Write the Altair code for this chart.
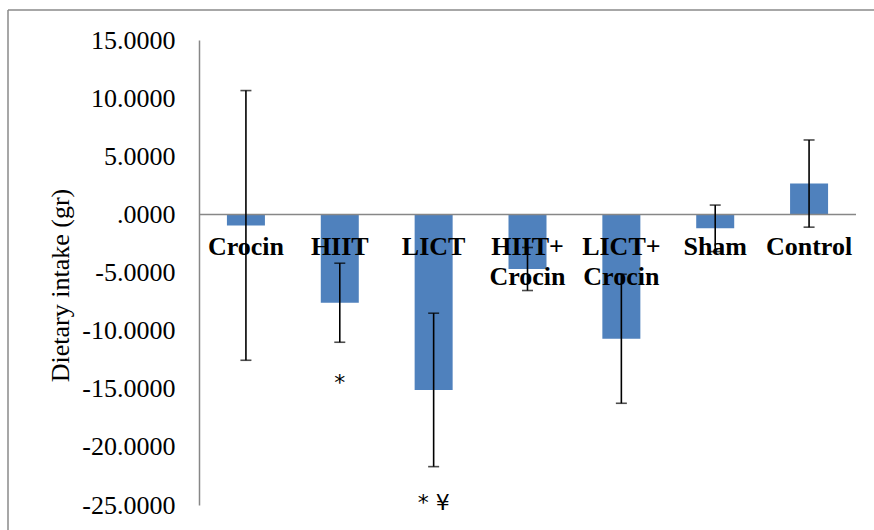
import altair as alt
import pandas as pd

categories = ["Crocin", "HIIT", "LICT", "HIIT+ Crocin", "LICT+ Crocin", "Sham", "Control"]
means = [-0.95, -7.6, -15.1, -4.7, -10.7, -1.2, 2.65]
errors = [11.6, 3.4, 6.6, 1.85, 5.55, 2.0, 3.75]

annot_cats = ["HIIT", "LICT"]
annot_text = ["*", "* \u00a5"]
annot_y = [-14.5, -24.8]

y_ticks = [-25, -20, -15, -10, -5, 0, 5, 10, 15]

df = pd.DataFrame({
    "group": categories,
    "label": [c.replace("+ ", "+\n") for c in categories],
    "mean": means,
    "err": errors,
})
df["lo"] = df["mean"] - df["err"]
df["hi"] = df["mean"] + df["err"]

ann = pd.DataFrame({"group": annot_cats, "text": annot_text, "y": annot_y})

W, H = 657, 465
SERIF = "Liberation Serif"

x_enc = alt.X("group:N", sort=categories,
              scale=alt.Scale(domain=categories, paddingInner=0, paddingOuter=0),
              axis=None)
y_scale = alt.Scale(domain=[-25, 15], nice=False, zero=False)

base = alt.Chart(df)

bars = base.mark_bar(color="#4F81BD", size=38).encode(
    x=x_enc,
    y=alt.Y("mean:Q", scale=y_scale,
            axis=alt.Axis(values=y_ticks, title="Dietary intake (gr)",
                          labelExpr="(datum.value < 0 ? '-' : '') + (datum.value == 0 ? '.0000' : format(abs(datum.value), '.4f'))",
                          ticks=False, tickSize=0, labelPadding=24, grid=False,
                          domainColor="#878787", domainWidth=1.5,
                          labelFont=SERIF, labelFontSize=26, labelColor="black",
                          labelFontWeight="normal",
                          titleFont=SERIF, titleFontSize=26, titleColor="black",
                          titleFontWeight="normal", titleAngle=-90,
                          titleX=-139, titleY=245, titleAlign="center",
                          titleBaseline="middle")),
    y2=alt.datum(0),
)

labels = base.mark_text(font=SERIF, fontSize=26, fontWeight="bold", color="black",
                        lineBreak="\n", lineHeight=30, baseline="alphabetic",
                        align="center", dy=41).encode(
    x=x_enc,
    y=alt.datum(0, scale=y_scale),
    text="label:N",
)

zero_line = alt.Chart(pd.DataFrame({"v": [0]})).mark_rule(color="#878787", strokeWidth=1.5).encode(
    y=alt.Y("v:Q", scale=y_scale),
    x=alt.value(0), x2=alt.value(W),
)

err_rule = base.mark_rule(color="black", strokeWidth=1.6).encode(
    x=x_enc,
    y=alt.Y("lo:Q", scale=y_scale),
    y2="hi:Q",
)
cap_lo = base.mark_tick(color="black", orient="horizontal", size=11, thickness=1.6).encode(
    x=x_enc, y=alt.Y("lo:Q", scale=y_scale))
cap_hi = base.mark_tick(color="black", orient="horizontal", size=11, thickness=1.6).encode(
    x=x_enc, y=alt.Y("hi:Q", scale=y_scale))

annots = alt.Chart(ann).mark_text(font="DejaVu Sans", fontSize=22, color="black",
                                  baseline="middle", align="center").encode(
    x=alt.X("group:N", sort=categories,
            scale=alt.Scale(domain=categories, paddingInner=0, paddingOuter=0), axis=None),
    y=alt.Y("y:Q", scale=y_scale),
    text="text:N",
)

border_top = alt.Chart(pd.DataFrame({"v": [0]})).mark_rule(color="#8a8a8a", strokeWidth=1.5).encode(
    x=alt.value(-191), x2=alt.value(W + 40), y=alt.value(-30))
border_left = alt.Chart(pd.DataFrame({"v": [0]})).mark_rule(color="#8a8a8a", strokeWidth=1.5).encode(
    x=alt.value(-191), y=alt.value(-30), y2=alt.value(H + 40))

chart = alt.layer(border_top, border_left, bars, labels, zero_line, err_rule, cap_lo, cap_hi, annots).properties(
    width=W, height=H,
    autosize=alt.AutoSizeParams(type="none"),
    padding={"left": 199, "top": 40, "right": 18, "bottom": 25},
    background="white",
).configure_view(stroke=None)

chart.save("out.html", embed_options={"renderer": "svg", "actions": False})
